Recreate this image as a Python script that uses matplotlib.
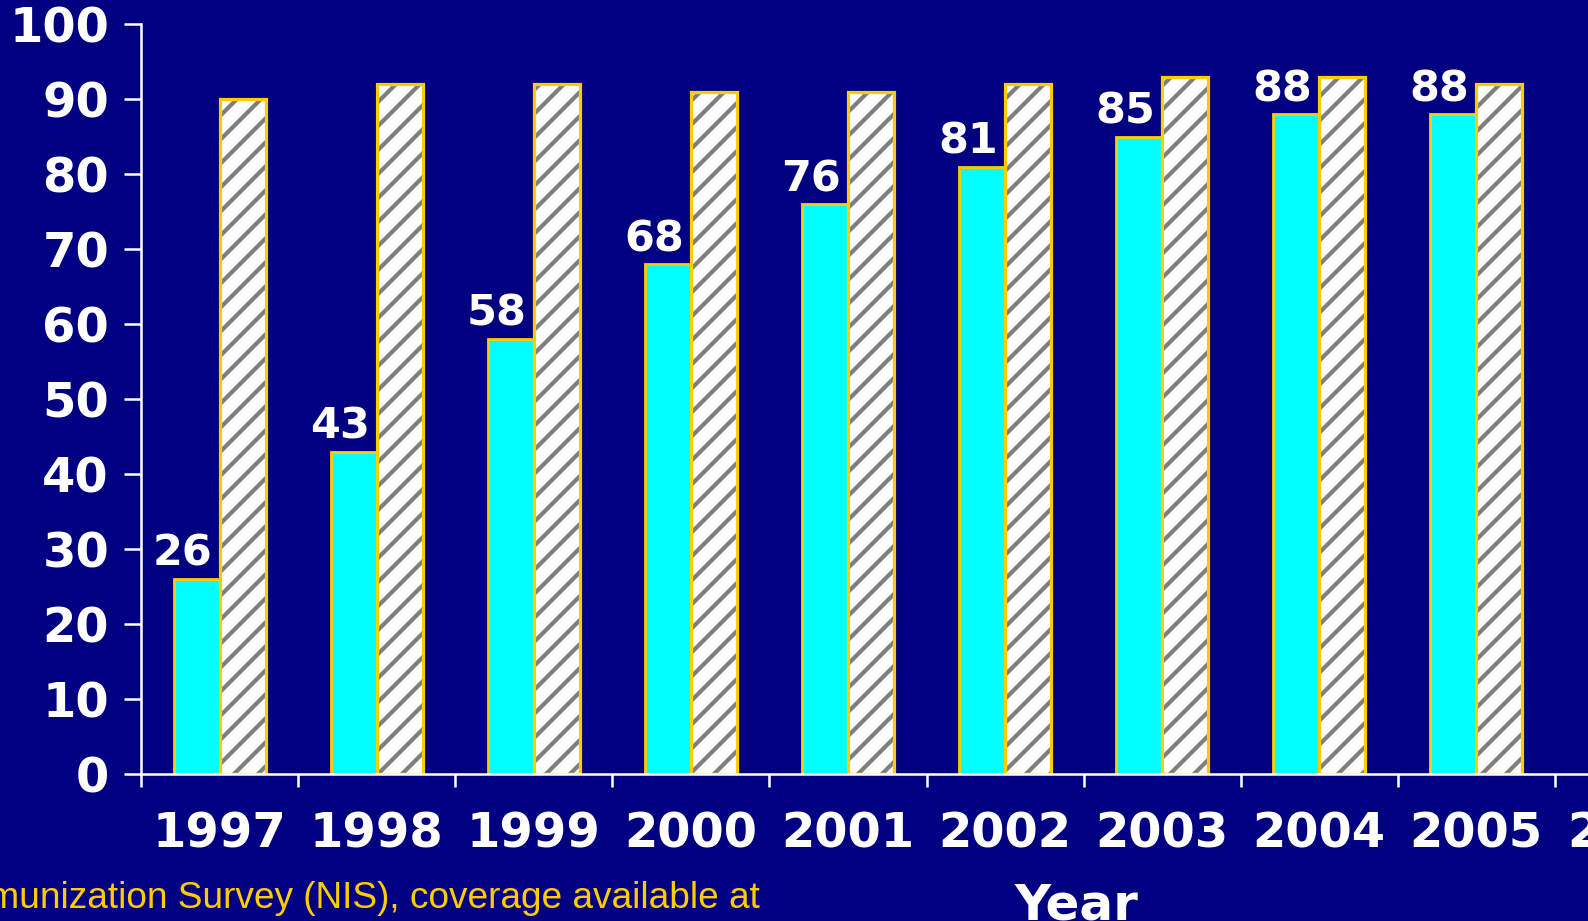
import matplotlib
matplotlib.use("Agg")
import matplotlib.pyplot as plt
import numpy as np

# ---- data ----
years = ["1997", "1998", "1999", "2000", "2001", "2002", "2003", "2004", "2005", "2006"]
series_a = [26, 43, 58, 68, 76, 81, 85, 88, 88]      # cyan bars (labelled)
series_b = [90, 92, 92, 91, 91, 92, 93, 93, 92]      # hatched bars
yticks = [0, 10, 20, 30, 40, 50, 60, 70, 80, 90, 100]
footnote = "National Immunization Survey (NIS), coverage available at"
xlabel = "Year"

# ---- style ----
BG = "#000080"
CYAN = "#00FFFF"
YELLOW = "#FFCC00"
GRAY = "#808080"
W, H, DPI = 1588, 921, 72

plt.rcParams["hatch.linewidth"] = 4.2
plt.rcParams["hatch.color"] = GRAY

fig = plt.figure(figsize=(W / DPI, H / DPI), dpi=DPI, facecolor=BG)
x0, y0_px, ytop_px, cat_w = 141, 774, 24, 157.1
ax = fig.add_axes([x0 / W, (H - y0_px) / H, cat_w * len(years) / W, (y0_px - ytop_px) / H])
ax.set_facecolor(BG)

n = len(series_a)
x = np.arange(n)
bw = 0.293

ax.bar(x - bw / 2, series_a, width=bw, color=CYAN, edgecolor=YELLOW, linewidth=2.8, zorder=2)
ax.bar(x + bw / 2, series_b, width=bw, color="white", edgecolor=GRAY, hatch="/", linewidth=0, zorder=2)
ax.bar(x + bw / 2, series_b, width=bw, fill=False, edgecolor=YELLOW, linewidth=3.2, zorder=3)

for xi, v in zip(x, series_a):
    ax.annotate(str(v), xy=(xi - bw / 2, v), xytext=(-14, 13), textcoords="offset points",
                ha="center", va="baseline", color="white", fontsize=43,
                fontweight="bold", family="DejaVu Sans")

ax.set_xlim(-0.5, len(years) - 0.5)
ax.set_ylim(0, 100)

ax.set_yticks(yticks)
ax.set_yticklabels([str(t) for t in yticks])
ax.tick_params(axis="y", colors="white", length=17, width=2.5, pad=15, labelsize=48)

ax.set_xticks(np.arange(len(years)))
ax.set_xticklabels(years)
ax.set_xticks(np.arange(len(years) + 1) - 0.5, minor=True)
ax.tick_params(axis="x", which="major", length=0, pad=37, colors="white", labelsize=48)
ax.tick_params(axis="x", which="minor", length=13, width=2.5, colors="white")

for lab in ax.get_xticklabels() + ax.get_yticklabels():
    lab.set_fontweight("bold")
    lab.set_family("DejaVu Sans")

for s in ["top", "right"]:
    ax.spines[s].set_visible(False)
for s in ["left", "bottom"]:
    ax.spines[s].set_color("white")
    ax.spines[s].set_linewidth(2.5)
    ax.spines[s].set_zorder(4)

fig.text(1076 / W, (H - 919) / H, xlabel, ha="center", va="baseline", color="white",
         fontsize=50, fontweight="bold", family="DejaVu Sans")
fig.text(760 / W, (H - 908) / H, footnote, ha="right", va="baseline", color=YELLOW,
         fontsize=37, family="Liberation Sans")

fig.savefig("out.png", dpi=DPI, facecolor=BG)
